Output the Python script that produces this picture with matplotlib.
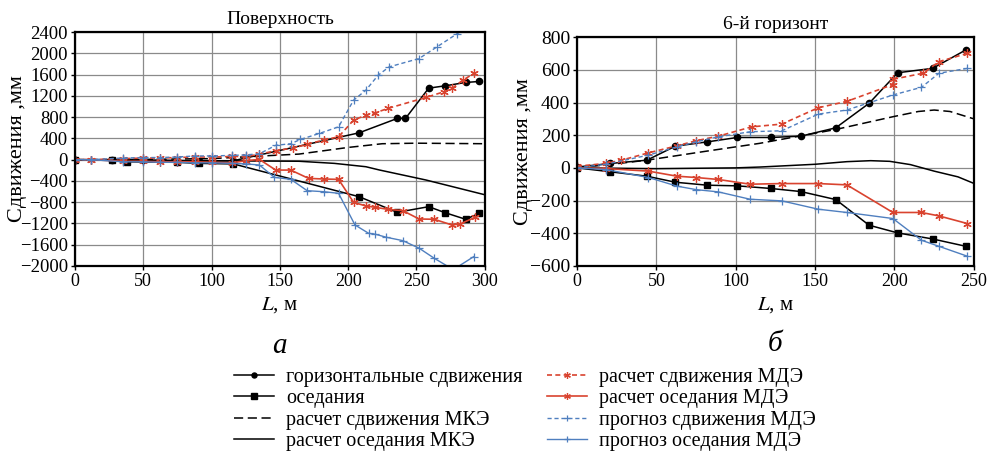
import numpy as np
import matplotlib
matplotlib.use("Agg")
import matplotlib.pyplot as plt

plt.rcParams['font.family'] = ['Liberation Serif', 'DejaVu Serif']
plt.rcParams['mathtext.fontset'] = 'stix'

# ---------- left panel: Поверхность ----------
a_hor_L = [0, 27, 50, 75, 91, 116, 208, 236, 242, 259, 271, 286, 296]
a_hor_v = [0, -5, -10, -20, -30, -20, 505, 776, 776, 1346, 1390, 1453, 1472]

a_sub_L = [0, 27, 38, 75, 91, 116, 208, 236, 259, 271, 286, 296]
a_sub_v = [0, -10, -40, -50, -70, -80, -697, -991, -885, -998, -1122, -1010]

a_mke_hor_L = [0, 50, 100, 130, 164, 200, 225, 250, 275, 300]
a_mke_hor_v = [0, 5, 20, 60, 105, 230, 300, 310, 305, 300]

a_mke_sub_L = [0, 50, 100, 164, 190, 213, 223, 257, 300]
a_mke_sub_v = [0, -10, -20, -30, -70, -133, -195, -383, -660]

a_mde_hor_L = [0, 12, 35, 50, 62, 75, 88, 100, 115, 125, 135, 147, 160, 170, 182,
               193, 204, 213, 220, 229, 257, 270, 276, 284, 292]
a_mde_hor_v = [0, 0, 20, 30, 30, 40, 50, 50, 60, 60, 100, 170, 220, 290, 370,
               430, 744, 838, 882, 964, 1171, 1277, 1340, 1496, 1622]

a_mde_sub_L = [0, 12, 35, 50, 62, 75, 88, 100, 115, 125, 135, 147, 158, 171, 182,
               193, 204, 213, 220, 229, 240, 252, 263, 276, 282, 293]
a_mde_sub_v = [0, 0, -30, -30, -40, -40, -40, -50, -60, -20, 5, -196, -196, -352, -364,
               -371, -803, -872, -897, -935, -960, -1117, -1122, -1229, -1210, -1085]

a_prg_hor_L = [0, 12, 35, 50, 62, 75, 88, 100, 115, 125, 135, 147, 158, 165, 179,
               193, 204, 213, 222, 230, 252, 265, 280, 290]
a_prg_hor_v = [0, 0, 30, 40, 40, 50, 70, 70, 80, 90, 110, 270, 300, 380, 494,
               618, 1120, 1308, 1590, 1746, 1904, 2122, 2374, 2520]

a_prg_sub_L = [0, 12, 35, 50, 62, 75, 88, 100, 115, 125, 135, 146, 158, 170, 182,
               193, 205, 215, 220, 228, 240, 252, 263, 277, 292]
a_prg_sub_v = [0, 0, -40, -40, -50, -50, -60, -60, -70, -80, -100, -333, -370, -584, -603,
               -633, -1229, -1386, -1404, -1461, -1524, -1667, -1855, -2070, -1825]

# ---------- right panel: 6-й горизонт ----------
b_hor_L = [0, 21, 44, 62, 82, 101, 122, 141, 163, 184, 202, 224, 245]
b_hor_v = [5, 27, 47, 133, 159, 186, 186, 194, 245, 395, 582, 609, 722]

b_sub_L = [0, 21, 44, 62, 82, 101, 122, 141, 163, 184, 202, 224, 245]
b_sub_v = [0, -24, -51, -88, -106, -110, -126, -145, -194, -351, -398, -435, -480]

b_mke_hor_L = [0, 20, 44, 80, 115, 163, 199, 215, 225, 235, 250]
b_mke_hor_v = [0, 20, 47, 100, 150, 235, 313, 345, 354, 345, 300]

b_mke_sub_L = [0, 50, 100, 115, 150, 170, 185, 197, 210, 225, 240, 250]
b_mke_sub_v = [0, -5, 0, 5, 22, 38, 44, 40, 20, -20, -55, -95]

b_mde_hor_L = [0, 18, 28, 45, 63, 75, 89, 110, 129, 152, 170, 199, 199, 218, 228, 246]
b_mde_hor_v = [10, 27, 47, 92, 135, 166, 194, 251, 268, 368, 407, 510, 542, 579, 650, 701]

b_mde_sub_L = [0, 18, 45, 63, 75, 89, 109, 129, 152, 170, 199, 217, 228, 246]
b_mde_sub_v = [0, -4, -20, -51, -59, -71, -100, -96, -96, -104, -273, -273, -294, -341]

b_prg_hor_L = [0, 18, 45, 63, 75, 89, 109, 129, 152, 170, 199, 217, 228, 246]
b_prg_hor_v = [0, 22, 78, 129, 159, 190, 221, 227, 329, 354, 446, 493, 579, 609]

b_prg_sub_L = [0, 18, 45, 63, 75, 89, 109, 129, 152, 170, 199, 217, 228, 246]
b_prg_sub_v = [0, -10, -59, -112, -133, -147, -192, -202, -253, -273, -310, -443, -480, -541]

labels = ['горизонтальные сдвижения', 'оседания', 'расчет сдвижения МКЭ',
          'расчет оседания МКЭ', 'расчет сдвижения МДЭ', 'расчет оседания МДЭ',
          'прогноз сдвижения МДЭ', 'прогноз оседания МДЭ']

RED = '#d9432f'
BLUE = '#4f7fbf'
ast = (6, 2, 0)

fig = plt.figure(figsize=(9.92, 4.53), dpi=100)
ax1 = fig.add_axes([0.0756, 0.413, 0.413, 0.516])
ax2 = fig.add_axes([0.5817, 0.413, 0.400, 0.505])


def draw(ax, d):
    h = []
    h += ax.plot(d[0][0], d[0][1], color='black', lw=1.1, marker='o', ms=4.5)
    h += ax.plot(d[1][0], d[1][1], color='black', lw=1.1, marker='s', ms=5)
    h += ax.plot(d[2][0], d[2][1], color='black', lw=1.1, ls=(0, (6, 3)))
    h += ax.plot(d[3][0], d[3][1], color='black', lw=1.1)
    h += ax.plot(d[4][0], d[4][1], color=RED, lw=1.2, ls=(0, (3, 2)), marker=ast, ms=6, mew=0.9)
    h += ax.plot(d[5][0], d[5][1], color=RED, lw=1.2, marker=ast, ms=6, mew=0.9)
    h += ax.plot(d[6][0], d[6][1], color=BLUE, lw=1.0, ls=(0, (3, 2)), marker='+', ms=6, mew=0.9)
    h += ax.plot(d[7][0], d[7][1], color=BLUE, lw=1.0, marker='+', ms=6, mew=0.9)
    return h


handles = draw(ax1, [(a_hor_L, a_hor_v), (a_sub_L, a_sub_v), (a_mke_hor_L, a_mke_hor_v),
                     (a_mke_sub_L, a_mke_sub_v), (a_mde_hor_L, a_mde_hor_v),
                     (a_mde_sub_L, a_mde_sub_v), (a_prg_hor_L, a_prg_hor_v),
                     (a_prg_sub_L, a_prg_sub_v)])
draw(ax2, [(b_hor_L, b_hor_v), (b_sub_L, b_sub_v), (b_mke_hor_L, b_mke_hor_v),
           (b_mke_sub_L, b_mke_sub_v), (b_mde_hor_L, b_mde_hor_v),
           (b_mde_sub_L, b_mde_sub_v), (b_prg_hor_L, b_prg_hor_v),
           (b_prg_sub_L, b_prg_sub_v)])

ax1.set_xlim(0, 300)
ax1.set_ylim(-2000, 2400)
ax1.set_xticks(np.arange(0, 301, 50))
ax1.set_yticks(np.arange(-2000, 2401, 400))
ax2.set_xlim(0, 250)
ax2.set_ylim(-600, 800)
ax2.set_xticks(np.arange(0, 251, 50))
ax2.set_yticks(np.arange(-600, 801, 200))

for ax, title, letter, tsize in [(ax1, 'Поверхность', 'а', 13.5), (ax2, '6-й горизонт', 'б', 14)]:
    ax.grid(True, color='#8a8a8a', lw=0.9)
    ax.set_axisbelow(True)
    for s in ax.spines.values():
        s.set_linewidth(1.6)
    ax.tick_params(labelsize=13, length=3, width=1, direction='out', pad=2)
    ax.tick_params(axis='y', labelsize=tsize)
    ax.set_title(title, fontsize=14, pad=6)
    ax.set_ylabel('Сдвижения ,мм', fontsize=16, labelpad=2)
    ax.set_xlabel('$L$, м', fontsize=15, labelpad=4)
    ax.text(0.5, -0.285, letter, transform=ax.transAxes, ha='center', va='top',
            fontsize=21, style='italic')

ax1.yaxis.set_label_coords(-0.118, 0.5)
ax2.yaxis.set_label_coords(-0.112, 0.5)

leg = fig.legend(handles, labels, loc='center', bbox_to_anchor=(0.529, 0.096), ncol=2,
                 frameon=False, fontsize=14.5, handlelength=2.0, labelspacing=0.12,
                 columnspacing=1.2, handletextpad=0.6, markerscale=0.8)

fig.savefig('out.png', dpi=100)
